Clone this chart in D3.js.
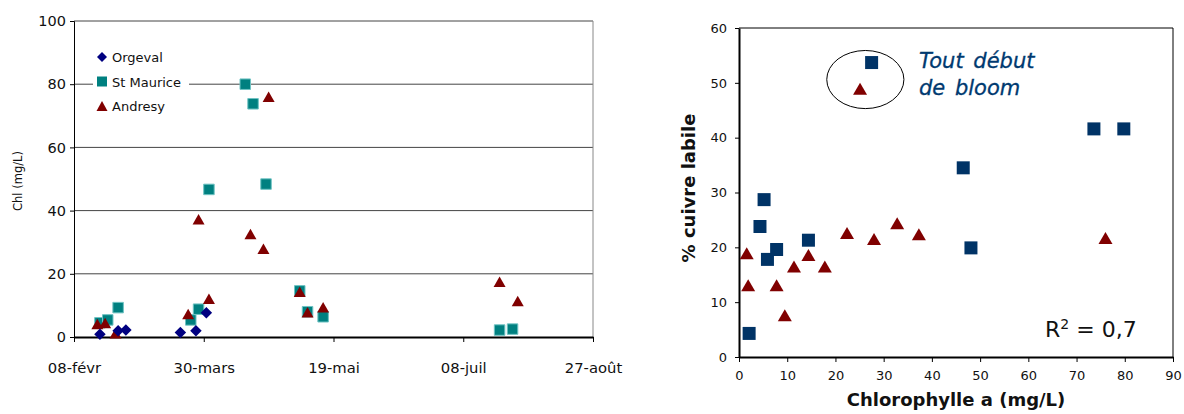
<!DOCTYPE html>
<html>
<head>
<meta charset="utf-8">
<script src="https://cdn.jsdelivr.net/npm/d3@7"></script>
<style>
  body { margin: 0; background: #fff; }
  svg { font-family: "DejaVu Sans", Verdana, sans-serif; }
</style>
</head>
<body>
<script>
// ---- left chart: Chl over time ----
const orgevalDates = ["2003-02-18", "2003-02-25", "2003-02-28", "2003-03-21", "2003-03-27", "2003-03-31"];
const orgevalChl = [0.9, 2.0, 2.2, 1.4, 2.0, 7.7];

const stMauriceDates = ["2003-02-18", "2003-02-21", "2003-02-25", "2003-03-25", "2003-03-28", "2003-04-01",
  "2003-04-15", "2003-04-18", "2003-04-23", "2003-05-06", "2003-05-09", "2003-05-15", "2003-07-22", "2003-07-27"];
const stMauriceChl = [4.5, 5.4, 9.3, 5.4, 8.8, 46.7, 80.0, 73.8, 48.4, 14.6, 8.0, 6.4, 2.2, 2.5];

const andresyDates = ["2003-02-17", "2003-02-20", "2003-02-24", "2003-03-24", "2003-03-28", "2003-04-01",
  "2003-04-17", "2003-04-22", "2003-04-24", "2003-05-06", "2003-05-09", "2003-05-15", "2003-07-22", "2003-07-29"];
const andresyChl = [4.1, 4.4, 1.2, 7.3, 37.3, 12.1, 32.6, 27.9, 76.0, 14.3, 7.8, 9.4, 17.5, 11.4];

const dateTicks = ["2003-02-08", "2003-03-30", "2003-05-19", "2003-07-08", "2003-08-27"];
const dateTickLabels = ["08-févr", "30-mars", "19-mai", "08-juil", "27-août"];
const chlTicks = [0, 20, 40, 60, 80, 100];

// ---- right chart: % labile copper vs chlorophyll ----
const squareChl = [27.5, 5.2, 4.35, 5.9, 7.8, 14.4, 2.1, 46.5, 48.1, 73.6, 79.8];
const squareCu = [53.7, 28.7, 23.8, 17.8, 19.6, 21.3, 4.3, 34.5, 19.9, 41.6, 41.6];

const triChl = [25.1, 1.6, 1.9, 7.8, 9.5, 11.4, 14.4, 17.8, 22.4, 28.0, 32.8, 37.3, 76.0];
const triCu = [48.9, 18.9, 13.1, 13.1, 7.6, 16.5, 18.6, 16.5, 22.6, 21.5, 24.4, 22.4, 21.7];

const cuTicks = [0, 10, 20, 30, 40, 50, 60];
const chlTicksR = [0, 10, 20, 30, 40, 50, 60, 70, 80, 90];

const width = 1184, height = 414;
const svg = d3.select("body").append("svg")
  .attr("width", width).attr("height", height);

const parse = d3.utcParse("%Y-%m-%d");

// marker paths centred on their bounding box
function square(s) { return `M${-s/2},${-s/2}h${s}v${s}h${-s}Z`; }
function diamond(s) { return `M0,${-s/2}L${s/2},0L0,${s/2}L${-s/2},0Z`; }
function triangle(w, h) { return `M0,${-h/2}L${w/2},${h/2}L${-w/2},${h/2}Z`; }

// ================= LEFT =================
const xL = d3.scaleUtc()
  .domain([parse(dateTicks[0]), parse(dateTicks[dateTicks.length - 1])])
  .range([74, 593]);
const yL = d3.scaleLinear().domain([0, 100]).range([337, 21]);

const gL = svg.append("g");

// gridlines
gL.append("g").selectAll("line")
  .data(chlTicks.filter(d => d > 0))
  .join("line")
  .attr("x1", xL.range()[0]).attr("x2", xL.range()[1])
  .attr("y1", d => yL(d)).attr("y2", d => yL(d))
  .attr("stroke", "#444").attr("stroke-width", 1);

// right border
gL.append("line")
  .attr("x1", xL.range()[1]).attr("x2", xL.range()[1])
  .attr("y1", yL(0)).attr("y2", yL(100))
  .attr("stroke", "#888");

// y axis
const yAxisL = gL.append("g")
  .attr("transform", `translate(${xL.range()[0]},0)`)
  .call(d3.axisLeft(yL).tickValues(chlTicks).tickSize(4).tickPadding(4).tickFormat(d3.format("d")));
yAxisL.select(".domain").attr("stroke", "#000");
yAxisL.selectAll("text").attr("font-size", 14.5).attr("font-family", "DejaVu Sans").attr("fill", "#111");

// x axis
const xAxisL = gL.append("g")
  .attr("transform", `translate(0,${yL(0)})`)
  .call(d3.axisBottom(xL)
    .tickValues(dateTicks.map(parse))
    .tickFormat((d, i) => dateTickLabels[i])
    .tickSize(5).tickPadding(20).tickSizeOuter(0));
xAxisL.select(".domain").attr("stroke", "#000").attr("stroke-width", 2);
xAxisL.selectAll("text").attr("font-size", 14.8).attr("font-family", "DejaVu Sans").attr("fill", "#111");

// y title
gL.append("text")
  .attr("transform", `translate(22,181) rotate(-90)`)
  .attr("text-anchor", "middle")
  .attr("font-size", 11.5)
  .attr("fill", "#111")
  .text("Chl (mg/L)");

// legend
const legendNames = ["Orgeval", "St Maurice", "Andresy"];
const leg = gL.append("g");
leg.append("rect")
  .attr("x", 93).attr("y", 45).attr("width", 96).attr("height", 72)
  .attr("fill", "#fff");
const legY = d3.scalePoint().domain(legendNames).range([57, 106]);
const legShapes = [diamond(10), square(10), triangle(11, 10)];
const legColors = ["#000080", "#008080", "#800000"];
leg.selectAll("path")
  .data(legendNames)
  .join("path")
  .attr("transform", d => `translate(102,${legY(d)})`)
  .attr("d", (d, i) => legShapes[i])
  .attr("fill", (d, i) => legColors[i]);
leg.selectAll("text")
  .data(legendNames)
  .join("text")
  .attr("x", 112).attr("y", d => legY(d) + 5)
  .attr("font-size", 13)
  .attr("fill", "#111")
  .text(d => d);

// series
function plotSeries(dates, vals, shape, fill, stroke) {
  gL.append("g").selectAll("path")
    .data(dates.map((d, i) => ({ date: parse(d), v: vals[i] })))
    .join("path")
    .attr("transform", d => `translate(${xL(d.date)},${yL(d.v)})`)
    .attr("d", shape)
    .attr("fill", fill)
    .attr("stroke", stroke)
    .attr("stroke-width", stroke === "none" ? 0 : 1);
}
plotSeries(stMauriceDates, stMauriceChl, square(10.5), "#008080", "#6fc3c3");
plotSeries(andresyDates, andresyChl, triangle(12, 10.5), "#800000", "none");
plotSeries(orgevalDates, orgevalChl, diamond(11.5), "#000080", "none");

// ================= RIGHT =================
const xR = d3.scaleLinear().domain([0, 90]).range([739, 1173]);
const yR = d3.scaleLinear().domain([0, 60]).range([357, 28]);

const gR = svg.append("g");

// frame top/right
gR.append("path")
  .attr("d", `M${xR(0)},${yR(60)}H${xR(90)}V${yR(0)}`)
  .attr("fill", "none").attr("stroke", "#000").attr("stroke-width", 1);

const yAxisR = gR.append("g")
  .attr("transform", `translate(${xR(0)},0)`)
  .call(d3.axisLeft(yR).tickValues(cuTicks).tickSize(4).tickPadding(8).tickSizeOuter(0));
yAxisR.select(".domain").attr("stroke", "#000").attr("stroke-width", 2);
yAxisR.selectAll("text").attr("font-size", 13).attr("font-family", "DejaVu Sans").attr("fill", "#111");

const xAxisR = gR.append("g")
  .attr("transform", `translate(0,${yR(0)})`)
  .call(d3.axisBottom(xR).tickValues(chlTicksR).tickSize(5).tickPadding(9).tickSizeOuter(0));
xAxisR.select(".domain").attr("stroke", "#000").attr("stroke-width", 2);
xAxisR.selectAll("text").attr("font-size", 13).attr("font-family", "DejaVu Sans").attr("fill", "#111");

// axis titles
gR.append("text")
  .attr("x", (xR(0) + xR(90)) / 2).attr("y", 406)
  .attr("text-anchor", "middle")
  .attr("font-size", 18).attr("font-weight", "bold")
  .attr("fill", "#111")
  .text("Chlorophylle a (mg/L)");
gR.append("text")
  .attr("transform", `translate(695,188) rotate(-90)`)
  .attr("text-anchor", "middle")
  .attr("font-size", 18).attr("font-weight", "bold")
  .attr("fill", "#111")
  .text("% cuivre labile");

// ellipse annotation
gR.append("ellipse")
  .attr("cx", xR(26.2)).attr("cy", yR(50.6))
  .attr("rx", xR(8) - xR(0)).attr("ry", yR(0) - yR(5.3))
  .attr("fill", "none").attr("stroke", "#000").attr("stroke-width", 1);

const note = gR.append("text")
  .attr("font-size", 21).attr("font-style", "italic")
  .attr("fill", "#003a70")
  .attr("stroke", "#003a70").attr("stroke-width", 0.3);
note.append("tspan").attr("x", 919).attr("y", 68).attr("word-spacing", 3).text("Tout début");
note.append("tspan").attr("x", 919).attr("y", 95).attr("word-spacing", 3).text("de bloom");

const r2 = gR.append("text")
  .attr("x", 1045).attr("y", 337)
  .attr("font-size", 22).attr("fill", "#111");
r2.append("tspan").text("R");
r2.append("tspan").attr("dy", -8).attr("font-size", 14).text("2");
r2.append("tspan").attr("dy", 8).text(" = 0,7");

gR.append("g").selectAll("path")
  .data(triChl.map((c, i) => [c, triCu[i]]))
  .join("path")
  .attr("transform", d => `translate(${xR(d[0])},${yR(d[1])})`)
  .attr("d", triangle(14, 12))
  .attr("fill", "#800000");

gR.append("g").selectAll("path")
  .data(squareChl.map((c, i) => [c, squareCu[i]]))
  .join("path")
  .attr("transform", d => `translate(${xR(d[0])},${yR(d[1])})`)
  .attr("d", square(13))
  .attr("fill", "#003366");
</script>
</body>
</html>
